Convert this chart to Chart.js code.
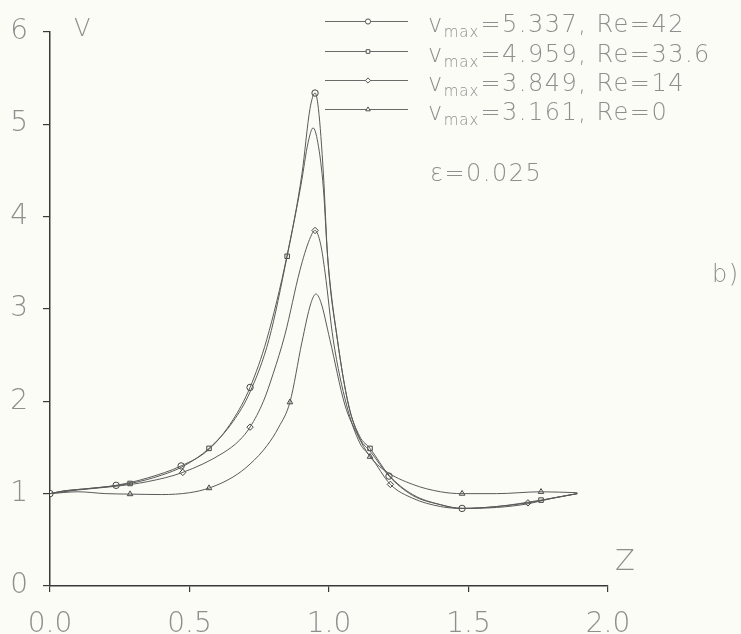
<!DOCTYPE html>
<html><head><meta charset="utf-8">
<script src="https://cdn.jsdelivr.net/npm/chart.js@4/dist/chart.umd.min.js"></script>
<style>html,body{margin:0;padding:0;background:#fcfcf6;}#wrap{width:741px;height:634px;position:relative;}</style>
</head><body><div id="wrap"><canvas id="c" width="741" height="634"></canvas></div>
<script>
// ---- data ----
const xTicks = [0.0, 0.5, 1.0, 1.5, 2.0];
const yTicks = [0, 1, 2, 3, 4, 5, 6];

const seriesLabels = ["5.337, Re=42", "4.959, Re=33.6", "3.849, Re=14", "3.161, Re=0"];
const markerStyles = ["circle", "rect", "rectRot", "triangle"];

const z42 = [0, 0.05, 0.12, 0.237, 0.35, 0.47, 0.57, 0.656, 0.717, 0.777, 0.849, 0.903, 0.932, 0.95, 0.962, 0.98, 0.995, 1.03, 1.07, 1.11, 1.15, 1.215, 1.3, 1.4, 1.477, 1.6, 1.713, 1.8, 1.89];
const v42 = [1, 1.03, 1.05, 1.09, 1.17, 1.30, 1.48, 1.80, 2.15, 2.67, 3.57, 4.46, 5.17, 5.337, 5.17, 4.46, 3.57, 2.67, 1.96, 1.6, 1.45, 1.19, 0.98, 0.88, 0.84, 0.85, 0.89, 0.95, 1.0];

const z33 = [0, 0.05, 0.12, 0.287, 0.4, 0.48, 0.57, 0.656, 0.717, 0.785, 0.85, 0.9, 0.925, 0.943, 0.96, 0.98, 0.995, 1.03, 1.07, 1.11, 1.147, 1.215, 1.3, 1.4, 1.477, 1.6, 1.76, 1.89];
const v33 = [1, 1.03, 1.05, 1.11, 1.2, 1.30, 1.49, 1.78, 2.10, 2.67, 3.57, 4.35, 4.8, 4.959, 4.8, 4.3, 3.57, 2.67, 1.96, 1.62, 1.49, 1.2, 0.99, 0.88, 0.84, 0.86, 0.93, 1.0];

const z14 = [0, 0.1, 0.237, 0.35, 0.476, 0.62, 0.68, 0.717, 0.765, 0.8, 0.842, 0.896, 0.93, 0.95, 0.97, 0.986, 1.015, 1.063, 1.11, 1.15, 1.22, 1.3, 1.4, 1.477, 1.6, 1.713, 1.8, 1.89];
const v14 = [1, 1.04, 1.08, 1.13, 1.23, 1.44, 1.58, 1.72, 2.0, 2.3, 2.72, 3.42, 3.75, 3.849, 3.7, 3.39, 2.67, 1.96, 1.55, 1.40, 1.10, 0.95, 0.86, 0.84, 0.86, 0.90, 0.95, 1.0];

const z0 = [0, 0.1, 0.2, 0.287, 0.4, 0.5, 0.57, 0.656, 0.717, 0.778, 0.82, 0.86, 0.903, 0.935, 0.953, 0.97, 1.003, 1.057, 1.1, 1.147, 1.2, 1.3, 1.4, 1.477, 1.6, 1.76, 1.89];
const v0 = [1, 1.02, 1.0, 0.995, 0.99, 1.01, 1.06, 1.18, 1.32, 1.52, 1.72, 1.99, 2.64, 3.06, 3.161, 3.08, 2.67, 1.96, 1.65, 1.40, 1.25, 1.1, 1.02, 1.0, 1.0, 1.02, 1.01];

const m42z = [0, 0.237, 0.47, 0.717, 0.95, 1.215, 1.477];
const m42v = [1, 1.09, 1.30, 2.15, 5.337, 1.19, 0.84];
const m33z = [0.287, 0.57, 0.85, 1.147, 1.76];
const m33v = [1.11, 1.49, 3.57, 1.49, 0.93];
const m14z = [0.476, 0.717, 0.95, 1.22, 1.713];
const m14v = [1.23, 1.72, 3.849, 1.10, 0.90];
const m0z = [0.287, 0.57, 0.86, 1.147, 1.477, 1.76];
const m0v = [0.995, 1.06, 1.99, 1.40, 1.0, 1.02];

// ---- build chart ----
const BG = '#fcfcf6', LINE = '#5a5a5a', TXT = '#8e8e8e', AX = '#3a3a3a';
const pts = (zs, vs) => zs.map((z, i) => ({x: z, y: vs[i]}));
const curves = [[z42, v42], [z33, v33], [z14, v14], [z0, v0]];
const marks = [[m42z, m42v], [m33z, m33v], [m14z, m14v], [m0z, m0v]];
const datasets = [];
curves.forEach((c, i) => datasets.push({
  data: pts(c[0], c[1]), showLine: true, borderColor: LINE, borderWidth: 1, pointRadius: 0,
  cubicInterpolationMode: 'monotone', fill: false
}));
marks.forEach((m, i) => datasets.push({
  data: pts(m[0], m[1]), showLine: false, pointStyle: markerStyles[i], pointRadius: 3.2,
  pointBorderColor: '#444', pointBackgroundColor: BG, pointBorderWidth: 1
}));

const FONT = 'DejaVu Sans';
const overlay = {
  id: 'overlay',
  afterDraw(chart) {
    const ctx = chart.ctx;
    ctx.save();
    const rows = [21, 51, 80, 109];
    rows.forEach((y, i) => {
      ctx.strokeStyle = '#6a6a6a'; ctx.lineWidth = 1;
      ctx.beginPath(); ctx.moveTo(325, y + 0.5); ctx.lineTo(408, y + 0.5); ctx.stroke();
      ctx.fillStyle = BG; ctx.strokeStyle = '#555';
      Chart.helpers.drawPoint(ctx, {pointStyle: markerStyles[i], radius: 2.6, borderWidth: 1}, 368, y + 0.5);
      ctx.fillStyle = TXT; ctx.textBaseline = 'alphabetic'; ctx.textAlign = 'left';
      ctx.letterSpacing = '1.5px';
      ctx.font = `200 24px "${FONT}"`;
      ctx.fillText('v', 428, y + 11);
      let w = ctx.measureText('v').width;
      ctx.letterSpacing = '1px';
      ctx.font = `200 15px "${FONT}"`;
      ctx.fillText('max', 428 + w, y + 16);
      let w2 = ctx.measureText('max').width;
      ctx.letterSpacing = '1.5px';
      ctx.font = `200 24px "${FONT}"`;
      ctx.fillText('=' + seriesLabels[i], 428 + w + w2 + 1, y + 11);
    });
    ctx.letterSpacing = '1.5px';
    ctx.font = `200 24px "${FONT}"`;
    ctx.fillStyle = TXT;
    ctx.fillText('\u025b=0.025', 430, 181);
    ctx.font = `200 24px "${FONT}"`;
    ctx.fillText('V', 74, 36);
    ctx.fillText('b)', 712, 282);
    ctx.font = `200 29px "${FONT}"`;
    ctx.fillText('Z', 615, 570);
    ctx.restore();
  }
};

new Chart(document.getElementById('c'), {
  type: 'scatter',
  data: {datasets},
  plugins: [overlay, {
    id: 'bg', beforeDraw(ch) { const c = ch.ctx; c.save(); c.fillStyle = BG; c.fillRect(0, 0, ch.width, ch.height); c.restore(); }
  }],
  options: {
    responsive: false, animation: false, devicePixelRatio: 1,
    layout: {padding: {left: 0, top: 26, right: 133, bottom: 0}},
    plugins: {legend: {display: false}, tooltip: {enabled: false}},
    scales: {
      x: {
        type: 'linear', min: 0, max: 2,
        afterFit: s => { s.height = 48; },
        afterBuildTicks: s => { s.ticks = xTicks.map(v => ({value: v})); },
        grid: {drawOnChartArea: false, drawTicks: true, tickLength: 6, color: AX, lineWidth: 1.2},
        border: {display: true, color: AX, width: 1.5},
        ticks: {color: TXT, font: {family: FONT, size: 28, weight: 200}, padding: 16,
          callback: v => v.toFixed(1), maxRotation: 0}
      },
      y: {
        type: 'linear', min: 0, max: 6,
        afterFit: s => { s.width = 50; },
        afterBuildTicks: s => { s.ticks = yTicks.map(v => ({value: v})); },
        grid: {drawOnChartArea: false, drawTicks: true, tickLength: 7, color: AX, lineWidth: 1.2},
        border: {display: true, color: AX, width: 1.5},
        ticks: {color: TXT, font: {family: FONT, size: 28, weight: 200}, padding: 15,
          callback: v => String(v)}
      }
    }
  }
});
</script></body></html>
